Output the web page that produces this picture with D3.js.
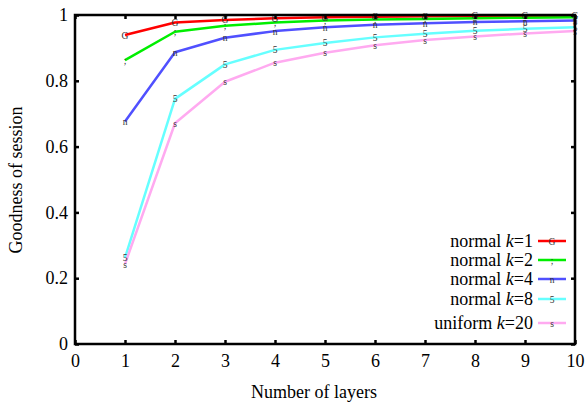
<!DOCTYPE html>
<html><head><meta charset="utf-8">
<script src="https://cdn.jsdelivr.net/npm/d3@7"></script>
<style>
body{margin:0;background:#fff;}
svg text{font-family:"Liberation Serif","Times New Roman",Times,"DejaVu Serif","Noto Serif",serif !important;}
</style></head>
<body><svg id="c" width="586" height="404"></svg>
<script>
const layers = [1,2,3,4,5,6,7,8,9,10];
const normalK1 = [0.939,0.977,0.985,0.990,0.993,0.995,0.996,0.997,0.998,0.998];
const normalK2 = [0.863,0.949,0.967,0.977,0.983,0.986,0.988,0.990,0.992,0.993];
const normalK4 = [0.676,0.887,0.931,0.951,0.963,0.970,0.975,0.979,0.981,0.983];
const normalK8 = [0.262,0.745,0.850,0.894,0.915,0.932,0.943,0.952,0.958,0.963];
const uniformK20 = [0.243,0.671,0.797,0.855,0.885,0.908,0.924,0.935,0.944,0.951];
const seriesNames = [["normal ","k","=1"],["normal ","k","=2"],["normal ","k","=4"],["normal ","k","=8"],["uniform ","k","=20"]];
const seriesColors = ["#ff0000","#00ee00","#5050ff","#66ffff","#ffaaf0"];
const seriesGlyphs = ["G",";","n","5","s"];
const xTicks = [0,1,2,3,4,5,6,7,8,9,10];
const yTicks = [0,0.2,0.4,0.6,0.8,1];

const seriesData = [normalK1,normalK2,normalK4,normalK8,uniformK20];
const FONT = "'Liberation Serif','Times New Roman',Times,'DejaVu Serif',serif";
const svg = d3.select("#c");
const x = d3.scaleLinear().domain([0,10]).range([75,575]);
const y = d3.scaleLinear().domain([0,1]).range([344,15]);

// series
const line = d3.line().x((d,i)=>x(layers[i])).y(d=>y(d));
seriesData.forEach((vals,s)=>{
  svg.append("path").datum(vals).attr("d",line).attr("fill","none")
    .attr("stroke",seriesColors[s]).attr("stroke-width",2.5).attr("stroke-linejoin","round");
});
seriesData.forEach((vals,s)=>{
  svg.selectAll(null).data(vals).enter().append("text")
    .attr("x",(d,i)=>x(layers[i])).attr("y",d=>y(d)+3.5)
    .attr("text-anchor","middle").attr("font-size",9.5).attr("fill","#333")
    .attr("font-family",FONT)
    .text(seriesGlyphs[s]);
});

// frame
svg.append("rect").attr("x",75).attr("y",15).attr("width",500).attr("height",329)
  .attr("fill","none").attr("stroke","#000").attr("stroke-width",2.5);

// axes
const xAxis = d3.axisBottom(x).tickValues(xTicks).tickSize(-4).tickPadding(10).tickFormat(d3.format("d"));
const gx = svg.append("g").attr("transform","translate(0,344)").call(xAxis);
const xAxisTop = d3.axisTop(x).tickValues(xTicks).tickSize(-4).tickFormat("");
const gxt = svg.append("g").attr("transform","translate(0,15)").call(xAxisTop);
const yAxis = d3.axisLeft(y).tickValues(yTicks).tickSize(-4).tickPadding(7).tickFormat(d=>d===0?"0":d===1?"1":d3.format(".1f")(d));
const gy = svg.append("g").attr("transform","translate(75,0)").call(yAxis);
const yAxisR = d3.axisRight(y).tickValues(yTicks).tickSize(-4).tickFormat("");
const gyr = svg.append("g").attr("transform","translate(575,0)").call(yAxisR);
[gx,gxt,gy,gyr].forEach(g=>{
  g.attr("font-family",FONT);
  g.select(".domain").remove();
  g.selectAll(".tick line").attr("stroke","#000").attr("stroke-width",2.5);
  g.selectAll("text").attr("font-size",18).attr("fill","#000").attr("font-family",FONT);
});

// axis labels
svg.append("text").attr("x",314).attr("y",398).attr("text-anchor","middle")
  .attr("font-size",18).attr("font-family",FONT).text("Number of layers");
svg.append("text").attr("transform","translate(22,180) rotate(-90)").attr("text-anchor","middle")
  .attr("font-size",18).attr("font-family",FONT).text("Goodness of session");

// legend
const legendY = [241,260,279,299,323];
seriesNames.forEach((nm,s)=>{
  const t = svg.append("text").attr("x",533).attr("y",legendY[s]+5.5)
    .attr("text-anchor","end").attr("font-size",18).attr("font-family",FONT);
  t.append("tspan").text(nm[0]);
  t.append("tspan").attr("font-style","italic").text(nm[1]);
  t.append("tspan").text(nm[2]);
  svg.append("line").attr("x1",538).attr("x2",566).attr("y1",legendY[s]).attr("y2",legendY[s])
    .attr("stroke",seriesColors[s]).attr("stroke-width",2.5);
  svg.append("text").attr("x",552).attr("y",legendY[s]+3.5).attr("text-anchor","middle")
    .attr("font-size",9.5).attr("fill","#333").attr("font-family",FONT).text(seriesGlyphs[s]);
});
</script></body></html>
